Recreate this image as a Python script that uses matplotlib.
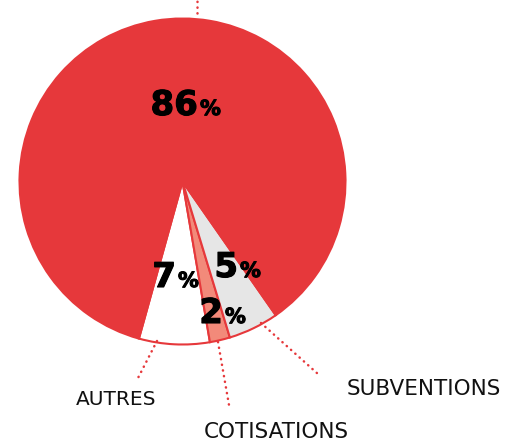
import matplotlib
matplotlib.use("Agg")
import matplotlib.pyplot as plt
import matplotlib.patheffects as pe

# data
labels = ["AUTRES", "COTISATIONS", "SUBVENTIONS", ""]
values = [7, 2, 5, 86]
colors = ["#ffffff", "#f28a7a", "#e6e6e6", "#e6383b"]

RED = "#e6383b"
W, H = 505, 444

fig = plt.figure(figsize=(W / 100, H / 100), dpi=100)
ax = fig.add_axes([0, 0, 1, 1])

# pie in pixel coordinates (y axis points down)
ax.pie(values, colors=colors, center=(182.5, 181.5), radius=163,
       startangle=105.5, counterclock=False,
       wedgeprops=dict(edgecolor=RED, linewidth=1.5))
ax.set_xlim(0, W)
ax.set_ylim(H, 0)
ax.set_aspect("equal")
ax.axis("off")

# percentage labels: (digit right edge x, baseline y)
heavy = [pe.withStroke(linewidth=0.8, foreground="black")]
pct_pos = [(176, 287), (223, 323), (238, 277), (198, 115)]
for v, (x, y) in zip(values, pct_pos):
    ax.text(x, y, str(v), ha="right", va="baseline", fontsize=24.5,
            fontfamily="DejaVu Sans", fontweight="bold", color="black",
            path_effects=heavy)
    ax.text(x + 2, y, "%", ha="left", va="baseline", fontsize=15,
            fontfamily="DejaVu Sans", fontweight="bold", color="black",
            path_effects=heavy)

# dotted leader lines
leaders = [((157, 341), (138, 378)),
           ((218, 342), (229, 405)),
           ((261, 323), (318, 374)),
           ((197, 13), (197, -2))]
for (x0, y0), (x1, y1) in leaders:
    ax.plot([x0, x1], [y0, y1], color=RED, lw=1.8,
            linestyle=(0, (0.1, 2.2)), dash_capstyle="round")

# category labels
label_pos = [(116, 405), (276, 438), (424, 395)]
label_size = [14.5, 15.5, 15.5]
for lab, (x, y), fs in zip(labels[:3], label_pos, label_size):
    ax.text(x, y, lab, ha="center", va="baseline", fontsize=fs,
            fontfamily="DejaVu Sans", color="#111111")

plt.savefig("out.png", dpi=100)
